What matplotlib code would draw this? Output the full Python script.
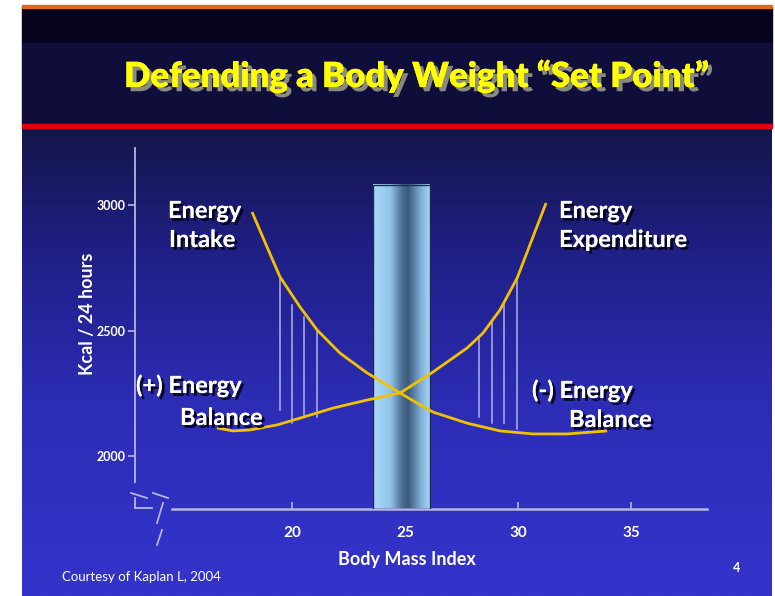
import numpy as np
import matplotlib
matplotlib.use("Agg")
from matplotlib import pyplot as plt
from matplotlib import patheffects as pe
from matplotlib.colors import to_rgb
from matplotlib.patches import Rectangle

W, H = 775, 596

# values
intake_bmi = [18.23, 18.89, 19.47, 20.35, 21.11, 22.12, 23.32, 24.78,
              25.53, 26.24, 27.74, 29.20, 30.66, 32.17, 33.94]
intake_kcal = [2972, 2833, 2713, 2594, 2502, 2410, 2331, 2251,
               2211, 2175, 2131, 2100, 2088, 2088, 2100]
expend_bmi = [16.68, 17.39, 18.14, 19.34, 20.35, 21.81, 23.32, 24.78,
              26.24, 27.74, 28.45, 29.20, 29.96, 30.66, 31.24]
expend_kcal = [2112, 2100, 2104, 2124, 2151, 2191, 2223, 2251,
               2335, 2430, 2490, 2582, 2709, 2873, 3008]

# vertical lines showing the gap between the curves
pos_bal_bmi = [19.47, 20.0, 20.53, 21.1]
pos_bal_top = [2713, 2602, 2554, 2494]
pos_bal_bot = [2183, 2131, 2155, 2155]
neg_bal_bmi = [28.27, 28.85, 29.38, 29.96]
neg_bal_top = [2474, 2530, 2606, 2709]
neg_bal_bot = [2155, 2131, 2131, 2108]

set_point = (23.6, 26.1)   # BMI band
set_point_top = 3080

x_ticks = [20, 25, 30, 35]
y_ticks = [2000, 2500, 3000]


def px(x, y):
    ''' slide pixel -> figure fraction '''
    return x / W, 1 - y / H


def gradient(stops, n):
    pos = [s[0] for s in stops]
    cols = np.array([to_rgb(s[1]) for s in stops])
    t = np.linspace(pos[0], pos[-1], n)
    return np.stack([np.interp(t, pos, cols[:, i]) for i in range(3)], axis=1)


fig = plt.figure(figsize=(W / 100, H / 100), dpi=100)
fig.patch.set_facecolor("white")

# slide background
bg = fig.add_axes([0, 0, 1, 1])
bg.set_xlim(0, W)
bg.set_ylim(H, 0)
bg.axis("off")
grad = gradient([(128, "#15154a"), (250, "#1f1f86"), (400, "#2c2cb4"), (596, "#3434cc")], 200)
bg.imshow(grad[:, None, :], extent=[22, 772, 596, 128], aspect="auto", zorder=0)
bg.add_patch(Rectangle((22, 7), 750, 36, color="#05041c", zorder=1))
bg.add_patch(Rectangle((22, 43), 750, 82, color="#0f0e3b", zorder=1))
bg.add_patch(Rectangle((22, 124), 750, 4, color="#e0000f", zorder=2))
bg.add_patch(Rectangle((22, 5), 750, 2.5, color="#e0661a", zorder=2))

fig.text(*px(417, 76), "Defending a Body Weight \u201cSet Point\u201d", ha="center", va="center",
         color="#ffff00", fontsize=25, fontweight="heavy", family="Lato",
         path_effects=[pe.withSimplePatchShadow(offset=(3, -3), shadow_rgbFace="#8a8a80", alpha=1),
                       pe.Normal()])

# chart area
x0, x1 = 13.05, 38.36
y0, y1 = 1789, 3227
ax = fig.add_axes([135 / W, 1 - 509 / H, (707 - 135) / W, (509 - 148) / H])
ax.set_facecolor("none")
line_col = "#b4b4e6"
for s in ["top", "right"]:
    ax.spines[s].set_visible(False)
ax.spines["left"].set_color(line_col)
ax.spines["bottom"].set_color(line_col)
ax.spines["left"].set_linewidth(1.3)
ax.spines["bottom"].set_linewidth(1.8)
ax.spines["left"].set_bounds(1896, y1)
ax.spines["bottom"].set_bounds(14.7, x1)

bar_grad = gradient([(0, "#aad8f8"), (0.3, "#92c4ec"), (0.52, "#4a6c8e"),
                     (0.62, "#3c5a7a"), (0.85, "#80b0d8"), (1, "#a6d4f4")], 60)
ax.imshow(bar_grad[None, :, :], extent=[set_point[0], set_point[1], y0, set_point_top],
          aspect="auto", zorder=2)
ax.add_patch(Rectangle((set_point[0], y0), set_point[1] - set_point[0], set_point_top - y0,
                       fill=False, ec="#1c2c50", lw=1, zorder=3))

for xb, t, b in zip(pos_bal_bmi + neg_bal_bmi, pos_bal_top + neg_bal_top, pos_bal_bot + neg_bal_bot):
    ax.plot([xb, xb], [b, t], color="#c8c8f4", lw=1.1, alpha=0.85, zorder=3)

ax.plot(intake_bmi, intake_kcal, color="#f2c200", lw=2, zorder=4, solid_capstyle="butt")
ax.plot(expend_bmi, expend_kcal, color="#f2c200", lw=2, zorder=4, solid_capstyle="butt")

ax.set_xlim(x0, x1)
ax.set_ylim(y0, y1)
ax.set_xticks(x_ticks)
ax.set_yticks(y_ticks)
ax.tick_params(axis="x", direction="in", length=5, width=1.2, color=line_col, pad=12,
               labelcolor="white", labelsize=11)
ax.tick_params(axis="y", direction="out", length=5, width=1.2, color=line_col, pad=2,
               labelcolor="white", labelsize=9)
for lab in ax.get_xticklabels() + ax.get_yticklabels():
    lab.set_fontweight("bold")
    lab.set_family("Lato")

# axis break marks (slide pixels)
breaks = [((131, 493), (147, 498)), ((153, 493), (168, 498)),
          ((135, 498), (135, 508)), ((135, 508), (152, 508)), ((163, 503), (157, 523)),
          ((162, 530), (157, 545))]
for (xa, ya), (xb, yb) in breaks:
    bg.plot([xa, xb], [ya, yb], color=line_col, lw=1.3, zorder=5)

shadow = [pe.withSimplePatchShadow(offset=(2, -2), shadow_rgbFace="#000010", alpha=0.9), pe.Normal()]
labels = [(168, 218, "Energy"), (169, 247, "Intake"),
          (559, 218, "Energy"), (559, 247, "Expenditure"),
          (136, 393, "(+) Energy"), (180, 425, "Balance"),
          (532, 398, "(-) Energy"), (569, 427, "Balance")]
for lx, ly, txt in labels:
    fig.text(*px(lx, ly), txt, ha="left", va="baseline", color="white", fontsize=17,
             fontweight="bold", family="Lato", path_effects=shadow)

fig.text(*px(407, 559), "Body Mass Index", ha="center", va="center", color="white",
         fontsize=13, fontweight="bold", family="Lato")
fig.text(*px(87, 314), "Kcal / 24 hours", ha="center", va="center", rotation=90,
         color="white", fontsize=13, fontweight="bold", family="Lato")
fig.text(*px(62, 577), "Courtesy of Kaplan L, 2004", ha="left", va="center", color="white",
         fontsize=9.5, family="Lato")
fig.text(*px(737, 568), "4", ha="center", va="center", color="white", fontsize=9,
         fontweight="bold", family="Lato")

fig.savefig("out.png", dpi=100, facecolor=fig.get_facecolor())
